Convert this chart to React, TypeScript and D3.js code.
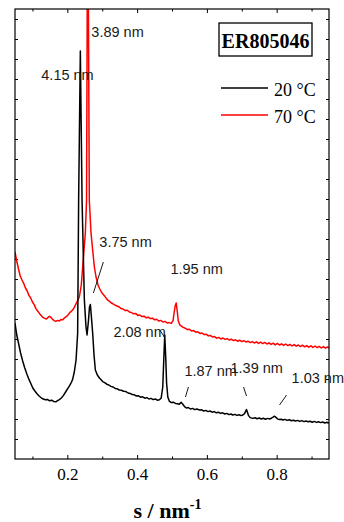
import React, { useEffect, useRef } from 'react';
import * as d3 from 'd3';

// SAXS profiles, s in nm^-1, intensity in arbitrary units (offset per curve)
const curve20C: [number, number][] = [
  [0.050, 6.80], [0.055, 6.20], [0.060, 5.80], [0.066, 5.30], [0.072, 4.90], [0.078, 4.55], [0.084, 4.25],
  [0.090, 3.98], [0.096, 3.75], [0.101, 3.55], [0.107, 3.40], [0.113, 3.26], [0.119, 3.15], [0.125, 3.06],
  [0.131, 3.00], [0.137, 2.96], [0.143, 2.98], [0.149, 2.91], [0.155, 2.94], [0.161, 2.88], [0.167, 2.86],
  [0.172, 2.92], [0.177, 2.97], [0.183, 3.05], [0.189, 3.18], [0.195, 3.35], [0.201, 3.52], [0.207, 3.68],
  [0.212, 3.85], [0.2152, 3.98], [0.220, 4.35], [0.225, 4.95], [0.2296, 6.30], [0.2324, 12.95], [0.2373, 20.4],
  [0.2422, 12.95], [0.2488, 7.95], [0.2535, 6.60], [0.2565, 6.20], [0.2605, 6.90], [0.2635, 7.60], [0.266, 7.73],
  [0.269, 7.10], [0.2726, 6.30], [0.2765, 5.20], [0.2803, 4.45], [0.286, 4.20], [0.292, 4.05], [0.2975, 3.95],
  [0.3013, 3.87], [0.307, 3.82], [0.313, 3.74], [0.319, 3.70], [0.325, 3.63], [0.331, 3.60], [0.337, 3.53],
  [0.343, 3.51], [0.349, 3.45], [0.355, 3.44], [0.361, 3.39], [0.368, 3.37], [0.374, 3.30], [0.380, 3.28],
  [0.386, 3.22], [0.392, 3.21], [0.398, 3.15], [0.404, 3.16], [0.410, 3.09], [0.416, 3.11], [0.422, 3.04],
  [0.428, 3.07], [0.434, 3.00], [0.440, 3.03], [0.446, 2.97], [0.452, 3.00], [0.458, 2.94], [0.464, 2.96],
  [0.469, 3.05], [0.4735, 3.60], [0.4765, 5.00], [0.4792, 6.20], [0.482, 5.10], [0.4845, 3.80], [0.488, 3.10],
  [0.4927, 2.88], [0.498, 2.82], [0.504, 2.84], [0.510, 2.78], [0.516, 2.76], [0.521, 2.74], [0.526, 2.84],
  [0.531, 2.74], [0.536, 2.62], [0.541, 2.55], [0.547, 2.57], [0.553, 2.50], [0.559, 2.53], [0.565, 2.47],
  [0.571, 2.50], [0.579, 2.45], [0.585, 2.46], [0.591, 2.40], [0.597, 2.43], [0.603, 2.37], [0.609, 2.40],
  [0.615, 2.34], [0.621, 2.37], [0.627, 2.31], [0.633, 2.34], [0.639, 2.28], [0.645, 2.31], [0.651, 2.25],
  [0.657, 2.28], [0.663, 2.22], [0.669, 2.25], [0.674, 2.20], [0.680, 2.23], [0.686, 2.18], [0.692, 2.21],
  [0.698, 2.17], [0.703, 2.20], [0.708, 2.27], [0.711, 2.38], [0.7135, 2.47], [0.716, 2.35], [0.719, 2.18],
  [0.724, 2.07], [0.7317, 2.03], [0.738, 2.06], [0.744, 2.01], [0.750, 2.05], [0.756, 2.00], [0.762, 2.04],
  [0.768, 1.99], [0.774, 2.03], [0.780, 2.00], [0.786, 2.05], [0.790, 2.10], [0.794, 2.14], [0.798, 2.08],
  [0.803, 2.00], [0.808, 1.97], [0.813, 1.99], [0.818, 1.95], [0.824, 1.98], [0.830, 1.93], [0.836, 1.96],
  [0.842, 1.91], [0.848, 1.94], [0.854, 1.90], [0.860, 1.93], [0.866, 1.88], [0.872, 1.92], [0.878, 1.87],
  [0.884, 1.90], [0.890, 1.86], [0.896, 1.89], [0.902, 1.84], [0.908, 1.88], [0.914, 1.83], [0.920, 1.86],
  [0.926, 1.82], [0.932, 1.85], [0.938, 1.80], [0.944, 1.84], [0.947, 1.80], [0.950, 1.83],
];

const curve70C: [number, number][] = [
  [0.050, 10.35], [0.055, 9.90], [0.060, 9.50], [0.065, 9.15], [0.070, 8.95], [0.075, 8.78], [0.080, 8.55],
  [0.085, 8.40], [0.090, 8.18], [0.095, 8.05], [0.100, 7.85], [0.105, 7.72], [0.110, 7.52], [0.115, 7.40],
  [0.120, 7.28], [0.125, 7.18], [0.130, 7.08], [0.135, 7.03], [0.140, 7.00], [0.145, 7.08], [0.149, 7.14],
  [0.153, 7.08], [0.157, 7.00], [0.162, 6.92], [0.167, 6.88], [0.172, 6.93], [0.177, 6.90], [0.182, 6.98],
  [0.187, 6.96], [0.192, 7.06], [0.197, 7.12], [0.202, 7.20], [0.207, 7.32], [0.2153, 7.45], [0.220, 7.58],
  [0.226, 7.80], [0.2344, 8.10], [0.240, 8.70], [0.244, 9.60], [0.2516, 11.30], [0.2551, 12.95], [0.2585, 30.0],
  [0.2630, 12.95], [0.2679, 11.30], [0.2726, 10.45], [0.2775, 9.60], [0.2823, 9.10], [0.288, 8.70], [0.293, 8.50],
  [0.298, 8.34], [0.303, 8.22], [0.308, 8.12], [0.311, 8.05], [0.316, 7.94], [0.321, 7.88], [0.326, 7.80],
  [0.331, 7.76], [0.336, 7.70], [0.341, 7.66], [0.349, 7.60], [0.354, 7.52], [0.360, 7.50], [0.366, 7.42],
  [0.372, 7.44], [0.378, 7.35], [0.384, 7.32], [0.390, 7.26], [0.396, 7.28], [0.402, 7.18], [0.408, 7.20],
  [0.414, 7.12], [0.420, 7.14], [0.426, 7.06], [0.432, 7.09], [0.438, 7.02], [0.444, 7.04], [0.450, 6.96],
  [0.456, 6.99], [0.462, 6.90], [0.468, 6.93], [0.474, 6.85], [0.480, 6.88], [0.486, 6.80], [0.492, 6.82],
  [0.498, 6.78], [0.503, 6.92], [0.506, 7.30], [0.509, 7.65], [0.512, 7.80], [0.515, 7.40], [0.518, 6.90],
  [0.522, 6.72], [0.527, 6.64], [0.532, 6.58], [0.538, 6.54], [0.544, 6.47], [0.550, 6.49], [0.556, 6.40],
  [0.562, 6.42], [0.568, 6.34], [0.574, 6.36], [0.580, 6.28], [0.586, 6.30], [0.592, 6.22], [0.598, 6.24],
  [0.604, 6.16], [0.610, 6.18], [0.616, 6.10], [0.622, 6.12], [0.628, 6.04], [0.634, 6.08], [0.640, 6.00],
  [0.646, 6.05], [0.652, 5.98], [0.658, 6.02], [0.664, 5.95], [0.670, 5.99], [0.676, 5.92], [0.682, 5.96],
  [0.688, 5.89], [0.694, 5.94], [0.700, 5.87], [0.706, 5.92], [0.712, 5.85], [0.718, 5.89], [0.724, 5.82],
  [0.730, 5.87], [0.736, 5.80], [0.742, 5.86], [0.748, 5.78], [0.754, 5.84], [0.760, 5.77], [0.766, 5.83],
  [0.772, 5.75], [0.778, 5.81], [0.784, 5.73], [0.790, 5.79], [0.796, 5.71], [0.802, 5.78], [0.808, 5.70],
  [0.814, 5.76], [0.820, 5.68], [0.826, 5.75], [0.832, 5.67], [0.838, 5.73], [0.844, 5.65], [0.850, 5.72],
  [0.856, 5.64], [0.862, 5.70], [0.868, 5.62], [0.874, 5.69], [0.880, 5.61], [0.886, 5.67], [0.892, 5.59],
  [0.898, 5.66], [0.904, 5.58], [0.910, 5.65], [0.916, 5.57], [0.922, 5.63], [0.928, 5.55], [0.934, 5.62],
  [0.940, 5.54], [0.946, 5.60], [0.950, 5.56],
];

const xTicks = [0.2, 0.4, 0.6, 0.8];
const xMinorTicks = [0.1, 0.3, 0.5, 0.7, 0.9];
const yTicks = d3.range(1, 23);

const seriesNames = ['20 °C', '70 °C'];
const seriesColors = ['#000000', '#ff0000'];
const sampleName = 'ER805046';

// peak labels: text, anchor (s, intensity)
const peakLabels: [string, number, number][] = [
  ['4.15 nm', 0.1254, 18.95],
  ['3.89 nm', 0.2689, 21.12],
  ['3.75 nm', 0.2918, 10.6],
  ['1.95 nm', 0.4955, 9.25],
  ['2.08 nm', 0.332, 6.1],
  ['1.87 nm', 0.5357, 4.17],
  ['1.39 nm', 0.6677, 4.29],
  ['1.03 nm', 0.8427, 3.82],
];

// pointer lines: s1, i1, s2, i2
const pointers: [number, number, number, number][] = [
  [0.3033, 9.85, 0.2746, 8.3],
  [0.4669, 6.4, 0.4783, 6.1],
  [0.5472, 3.6, 0.5386, 3.1],
  [0.705, 3.6, 0.7136, 3.15],
  [0.8284, 3.2, 0.8083, 2.7],
];

const width = 344;
const height = 522;

export default function App() {
  const svgRef = useRef<SVGSVGElement>(null);

  useEffect(() => {
    if (!svgRef.current) return;
    const svg = d3.select(svgRef.current);
    svg.selectAll('*').remove();

    const left = 15, right = 329, top = 9, bottom = 459;
    const serif = '"Liberation Serif", "Times New Roman", serif';
    const sans = '"Liberation Sans", Arial, sans-serif';

    const x = d3.scaleLinear().domain([0.05, 0.95]).range([left, right]);
    const y = d3.scaleLinear().domain([0, 22.5]).range([bottom, top]);

    svg.append('rect').attr('width', width).attr('height', height).attr('fill', '#fff');

    svg.append('defs').append('clipPath').attr('id', 'plot-clip')
      .append('rect').attr('x', left).attr('y', top).attr('width', right - left).attr('height', bottom - top);

    // ticks (inward, on all four sides)
    const tickAxis = (g: d3.Selection<SVGGElement, unknown, null, undefined>) => {
      g.select('.domain').remove();
      g.selectAll('line').attr('stroke', '#000').attr('stroke-width', 1);
    };

    svg.append('g').attr('transform', `translate(0,${bottom})`)
      .call(d3.axisBottom(x).tickValues(xTicks).tickSize(-4).tickPadding(9).tickFormat(d3.format('.1f')))
      .call(tickAxis)
      .selectAll('text').attr('font-family', serif).attr('font-size', 17).attr('fill', '#000');
    svg.append('g').attr('transform', `translate(0,${bottom})`)
      .call(d3.axisBottom(x).tickValues(xMinorTicks).tickSize(-2.5).tickFormat(() => ''))
      .call(tickAxis);
    svg.append('g').attr('transform', `translate(0,${top})`)
      .call(d3.axisTop(x).tickValues(xTicks).tickSize(-4).tickFormat(() => ''))
      .call(tickAxis);
    svg.append('g').attr('transform', `translate(0,${top})`)
      .call(d3.axisTop(x).tickValues(xMinorTicks).tickSize(-2.5).tickFormat(() => ''))
      .call(tickAxis);
    svg.append('g').attr('transform', `translate(${left},0)`)
      .call(d3.axisLeft(y).tickValues(yTicks).tickSize(-3).tickFormat(() => ''))
      .call(tickAxis);
    svg.append('g').attr('transform', `translate(${right},0)`)
      .call(d3.axisRight(y).tickValues(yTicks).tickSize(-3).tickFormat(() => ''))
      .call(tickAxis);

    // curves
    const line = d3.line<[number, number]>().x(d => x(d[0])).y(d => y(d[1]));
    const plot = svg.append('g').attr('clip-path', 'url(#plot-clip)');
    [curve70C, curve20C].forEach((c, i) => {
      plot.append('path').datum(c)
        .attr('fill', 'none').attr('stroke', seriesColors[1 - i]).attr('stroke-width', 1.5)
        .attr('stroke-linejoin', 'round').attr('d', line);
    });

    // frame
    svg.append('rect').attr('x', left).attr('y', top).attr('width', right - left).attr('height', bottom - top)
      .attr('fill', 'none').attr('stroke', '#000').attr('stroke-width', 1.2);

    // peak annotations
    svg.selectAll('text.peak').data(peakLabels).enter().append('text')
      .attr('class', 'peak')
      .attr('x', d => x(d[1])).attr('y', d => y(d[2]))
      .attr('font-family', sans).attr('font-size', 14.5).attr('fill', '#1a1a1a')
      .text(d => d[0]);

    svg.selectAll('line.pointer').data(pointers).enter().append('line')
      .attr('class', 'pointer')
      .attr('x1', d => x(d[0])).attr('y1', d => y(d[1]))
      .attr('x2', d => x(d[2])).attr('y2', d => y(d[3]))
      .attr('stroke', '#000').attr('stroke-width', 0.9);

    // sample name box
    svg.append('rect').attr('x', 219).attr('y', 23).attr('width', 93).attr('height', 33)
      .attr('fill', '#fff').attr('stroke', '#000').attr('stroke-width', 1.3);
    svg.append('text').attr('x', 265.5).attr('y', 48).attr('text-anchor', 'middle')
      .attr('font-family', serif).attr('font-weight', 'bold').attr('font-size', 20).attr('fill', '#000')
      .text(sampleName);

    // legend
    seriesNames.forEach((name, i) => {
      const ly = 88 + i * 27;
      svg.append('line').attr('x1', 221).attr('x2', 268).attr('y1', ly).attr('y2', ly)
        .attr('stroke', seriesColors[i]).attr('stroke-width', 1.3);
      svg.append('text').attr('x', 274).attr('y', ly + 8)
        .attr('font-family', serif).attr('font-size', 18).attr('fill', '#000')
        .text(name);
    });

    // axis title
    const title = svg.append('text').attr('x', 167.5).attr('y', 518).attr('text-anchor', 'middle')
      .attr('font-family', serif).attr('font-weight', 'bold').attr('font-size', 22).attr('fill', '#000');
    title.append('tspan').text('s / nm');
    title.append('tspan').attr('dy', -9).attr('font-size', 14).text('-1');
  }, []);

  return (
    <svg ref={svgRef} width={width} height={height}
      style={{ position: 'absolute', left: 0, top: 0, display: 'block' }} />
  );
}
